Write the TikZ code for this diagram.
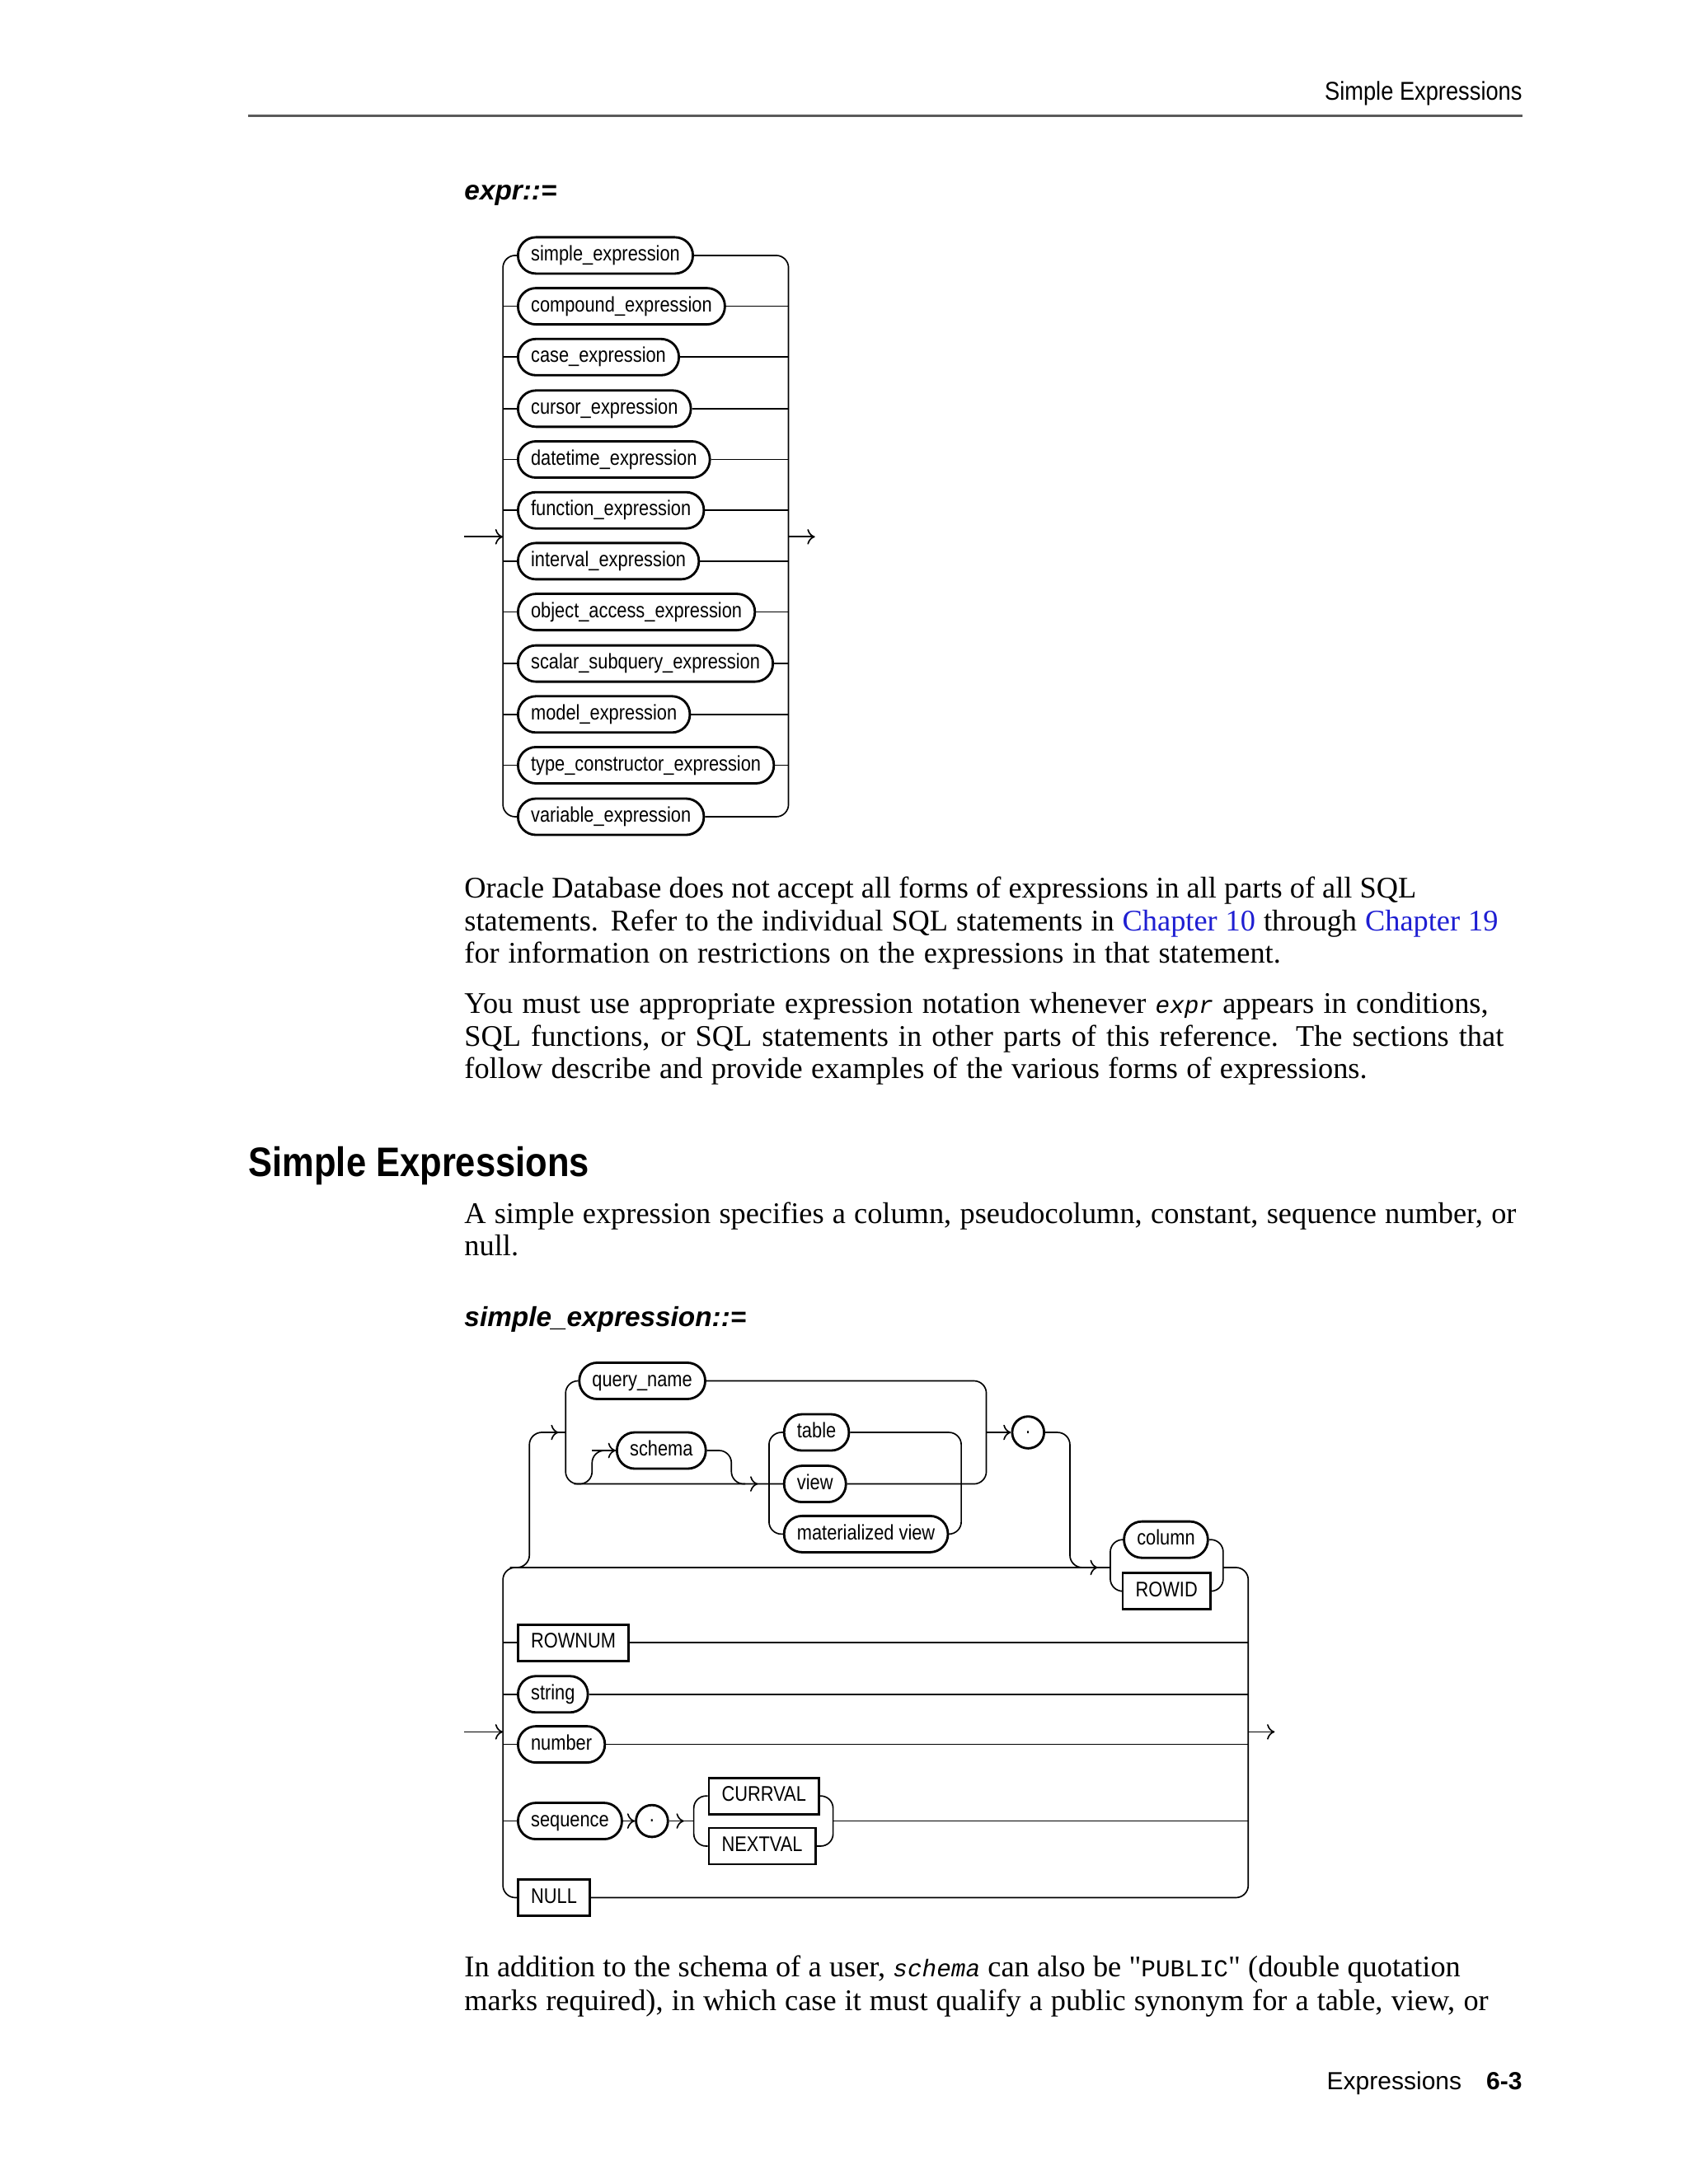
\documentclass[tikz,border=0pt]{standalone}
\usepackage{fontspec}
\usepackage{xcolor}
\usetikzlibrary{arrows.meta}
\setmainfont{Liberation Serif}[Ligatures=TeXOff]
\setmonofont{Liberation Mono}
\newfontfamily\narrowsans[FakeStretch=0.85]{Liberation Sans}
\newfontfamily\headsans[FakeStretch=0.87]{Liberation Sans}
\newfontfamily\plainsans{Liberation Sans}
\definecolor{linkblue}{RGB}{30,30,210}
\definecolor{rulegray}{RGB}{90,90,90}
\newlength\pu
\setlength\pu{0.5068pt}
\newcommand{\sqlword}[1]{{\ttfamily\fontsize{8.8}{10}\selectfont #1}}
\newcommand{\sqlvar}[1]{{\ttfamily\itshape\fontsize{8.8}{10}\selectfont #1}}
\newcommand{\fitline}[2]{\makebox[#1\pu][s]{#2}}

\tikzset{
  pill/.style={draw,line width=.85pt,rounded corners=6.5pt,minimum height=13.2pt,inner xsep=4.7pt,inner ysep=0pt,
    text height=5.6pt,text depth=1.6pt,anchor=west,font=\narrowsans\fontsize{7.7}{9}\selectfont},
  kw/.style={pill,rounded corners=0pt},
  dot/.style={draw,line width=.85pt,circle,minimum size=11.6pt,inner sep=0pt,font=\narrowsans\fontsize{7.7}{9}\selectfont},
  rail/.style={line width=.5pt,rounded corners=4.5pt},
  arr/.style={line width=.5pt,-{To[length=2.8pt,width=5.6pt]}},
  txt/.style={anchor=base west,inner sep=0pt,font=\fontsize{10.9}{12}\selectfont},
  ttl/.style={anchor=base west,inner sep=0pt,font=\plainsans\bfseries\itshape\fontsize{10}{12}\selectfont},
}

\begin{document}
\begin{tikzpicture}[x=0.5068pt,y=-0.5068pt]
\fill[white] (0,0) rectangle (1212,1568);
\useasboundingbox (0,0) rectangle (1212,1568);

% page head
\node[anchor=base east,inner sep=0pt,font=\headsans\fontsize{9.4}{11}\selectfont] (head) at (1093,72) {Simple Expressions};
\draw[rulegray,line width=.8pt] (178,83) -- (1093,83);

\begin{scope}[yshift=-0.7pt]
% expr::=
\node[ttl] (exprhd) at (333,142) {expr::=};
\coordinate (l1) at (361,384);
\coordinate (r1) at (566,384);
\foreach \y/\t [count=\i] in {182/simple\_expression,218.5/compound\_expression,255/case\_expression,
    292/cursor\_expression,328.5/datetime\_expression,365/function\_expression,401.5/interval\_expression,
    438/object\_access\_expression,475/scalar\_subquery\_expression,511.5/model\_expression,
    548/type\_constructor\_expression,585/variable\_expression}
  \node[pill] (e\i) at (371,\y) {\t};
\draw[rail] (e1.west) -| (l1) |- (e12.west);
\draw[rail] (e1.east) -| (r1) |- (e12.east);
\foreach \i in {2,...,11} {
  \draw[rail] (e\i.west -| l1) -- (e\i.west);
  \draw[rail] (e\i.east) -- (e\i.east -| r1);}
\draw[arr] (333,384) -- (l1);
\draw[arr] (r1) -- (585,384);

% text
\node[txt] (p1a) at (333,643) {Oracle Database does not accept all forms of expressions in all parts of all SQL};
\node[txt] (p1b) at (333,667) {\fitline{742}{statements. Refer to the individual SQL statements in \textcolor{linkblue}{Chapter 10} through \textcolor{linkblue}{Chapter 19}}};
\node[txt] (p1c) at (333,690) {\fitline{586}{for information on restrictions on the expressions in that statement.}};
\node[txt] (p2a) at (333,726) {\fitline{735}{You must use appropriate expression notation whenever \sqlvar{expr} appears in conditions,}};
\node[txt] (p2b) at (333,750) {\fitline{746}{SQL functions, or SQL statements in other parts of this reference. The sections that}};
\node[txt] (p2c) at (333,773) {\fitline{648}{follow describe and provide examples of the various forms of expressions.}};
\node[anchor=base west,inner sep=0pt,font=\headsans\bfseries\fontsize{15}{18}\selectfont] (sec) at (178,843) {Simple Expressions};
\node[txt] (p3a) at (333,877) {\fitline{755}{A simple expression specifies a column, pseudocolumn, constant, sequence number, or}};
\node[txt] (p3b) at (333,900) {null.};

% simple_expression::=
\node[ttl] (sehd) at (333,951) {simple\_expression::=};
\coordinate (l2) at (361,1242);
\coordinate (r2) at (896,1242);
\node[pill] (qn) at (415,990) {query\_name};
\node[pill] (sch) at (442,1040) {schema};
\node[pill] (tbl) at (562,1027) {table};
\node[pill] (vw) at (562,1064) {view};
\node[pill] (mv) at (562,1100) {materialized view};
\node[dot] (d1) at (738,1027) {.};
\node[pill] (col) at (806,1104) {column};
\node[kw] (rid) at (805,1141) {ROWID};
\node[kw] (rnum) at (371,1178) {ROWNUM};
\node[pill] (str) at (371,1215) {string};
\node[pill] (num) at (371,1251) {number};
\node[pill] (seq) at (371,1306) {sequence};
\node[dot] (d2) at (468,1306) {.};
\node[kw] (cur) at (508,1288) {CURRVAL};
\node[kw] (nxt) at (508,1324) {NEXTVAL};
\node[kw] (nul) at (371,1361) {NULL};

\draw[arr] (333,1242) -- (l2);
\draw[arr] (r2) -- (915,1242);
\draw[rail] (797,1124) -- (361,1124) -- (nul.west -| l2) -- (nul.west);
\draw[rail] (878,1124) -- (896,1124) -- (nul.east -| r2) -- (nul.east);
\foreach \n in {rnum,str,num} {
  \draw[rail] (\n.west -| l2) -- (\n.west);
  \draw[rail] (\n.east) -- (\n.east -| r2);}
\draw[rail] (seq.west -| l2) -- (seq.west);
\draw[arr] (seq.east) -- (d2.west);
\draw[rail] (d2.east) -- (498,1306);
\draw[arr] (d2.east) -- (491,1306);
\draw[rail] (cur.west) -| (498,1306) |- (nxt.west);
\draw[rail] (cur.east) -| (598,1306) |- (nxt.east);
\draw[rail] (598,1306) -- (seq.east -| r2);

\draw[rail] (col.west) -| (797,1124) |- (rid.west);
\draw[rail] (col.east) -| (878,1124) |- (rid.east);
\draw[arr] (770,1124) -- (788,1124);

\draw[rail] (366,1124) -| (380,1027) -- (406,1027);
\draw[arr] (388,1027) -- (401,1027);
\draw[rail] (qn.west) -| (406,1064) -- (vw.west);
\draw[arr] (528,1064) -- (544,1064);
\draw[rail] (412,1064) -| (425,1040) -- (sch.west);
\draw[arr] (425,1040) -- (sch.west);
\draw[rail] (sch.east) -| (525,1064) -- (535,1064);
\draw[rail] (tbl.west) -| (552,1064) |- (mv.west);
\draw[rail] (tbl.east) -| (690,1064) |- (mv.east);
\draw[rail] (qn.east) -| (708,1027) |- (vw.east);
\draw[arr] (708,1027) -- (d1.west);
\draw[rail] (d1.east) -| (768,1124) -- (780,1124);

% text
\node[txt] (p4a) at (333,1418) {\fitline{715}{In addition to the schema of a user, \sqlvar{schema} can also be "\sqlword{PUBLIC}" (double quotation}};
\node[txt] (p4b) at (333,1442) {\fitline{735}{marks required), in which case it must qualify a public synonym for a table, view, or}};
\end{scope}

% page foot
\node[anchor=base east,inner sep=0pt,font=\plainsans\fontsize{9}{11}\selectfont] (foot) at (1093,1500) {Expressions\hspace{9pt}\textbf{6-3}};
\end{tikzpicture}
\end{document}
